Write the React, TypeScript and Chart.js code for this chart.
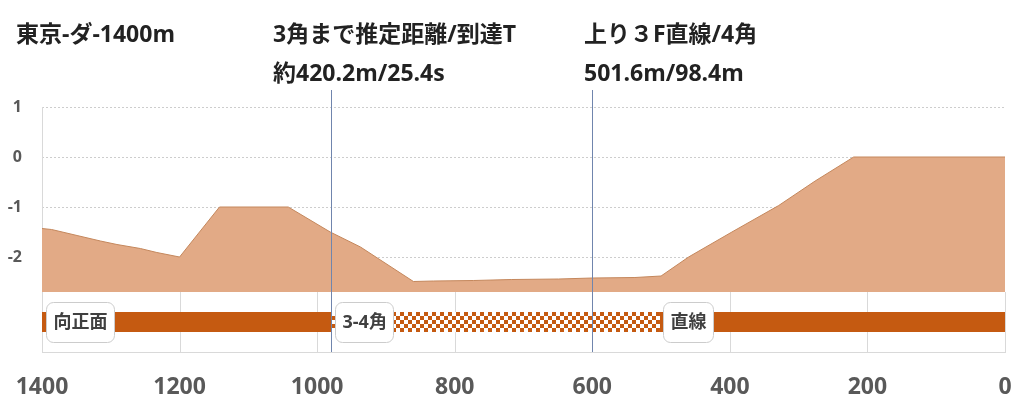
import React, { useEffect, useRef } from "react";
import { Chart, registerables } from "chart.js";

Chart.register(...registerables);

// Elevation profile (remaining distance in m -> relative height in m)
const distances = [1400, 1386, 1349, 1315, 1291, 1257, 1233, 1200, 1142, 1042, 981, 937, 860, 831, 773, 717, 649, 600, 538, 500, 460, 397, 329, 276, 220, 0];
const elevations = [-1.43, -1.45, -1.57, -1.68, -1.75, -1.83, -1.91, -2.0, -1.0, -1.0, -1.5, -1.8, -2.49, -2.48, -2.47, -2.45, -2.44, -2.42, -2.41, -2.38, -2.0, -1.5, -0.97, -0.48, 0, 0];

const yTicks = [1, 0, -1, -2];
const xTicks = [1400, 1200, 1000, 800, 600, 400, 200, 0];

// Track sections
const bandNames = ["向正面", "3-4角", "直線"];
const bandStarts = [1400, 979.8, 501.6];
const bandEnds = [979.8, 501.6, 0];
const bandChecked = [false, true, false];

// Marker lines
const markerDistances = [979.8, 600];

// Header texts
const headerTexts = [
  ["東京-ダ-1400m"],
  ["3角まで推定距離/到達T", "約420.2m/25.4s"],
  ["上り３F直線/4角", "501.6m/98.4m"],
];

const Y_MIN = -3.9;
const Y_MAX = 1;
const BASE = -2.7;
const BAND_LEVEL = -3.3;

const ORANGE = "#C55A11";
const FONT = '"Open Sans", "Noto Sans CJK JP", sans-serif';

export default function App() {
  const ref = useRef<HTMLCanvasElement | null>(null);

  useEffect(() => {
    document.body.style.margin = "0";
    const canvas = ref.current!;
    const ctx = canvas.getContext("2d")!;

    const pc = document.createElement("canvas");
    pc.width = 8;
    pc.height = 8;
    const pctx = pc.getContext("2d")!;
    pctx.fillStyle = "#ffffff";
    pctx.fillRect(0, 0, 8, 8);
    pctx.fillStyle = ORANGE;
    pctx.fillRect(0, 0, 4, 4);
    pctx.fillRect(4, 4, 4, 4);
    const checker = ctx.createPattern(pc, "repeat")!;

    const decor = {
      id: "decor",
      beforeDatasetsDraw(chart: any) {
        const { ctx, chartArea } = chart;
        const xs = chart.scales.x;
        const ys = chart.scales.y;
        const yb = ys.getPixelForValue(BASE);
        ctx.save();
        ctx.strokeStyle = "#d9d9d9";
        ctx.lineWidth = 1;
        xTicks.forEach((v) => {
          const x = Math.round(xs.getPixelForValue(v)) + 0.5;
          ctx.beginPath();
          ctx.moveTo(x, v === 1400 ? chartArea.top : yb);
          ctx.lineTo(x, chartArea.bottom);
          ctx.stroke();
        });
        ctx.restore();
      },
      afterDatasetsDraw(chart: any) {
        const { ctx, chartArea } = chart;
        const xs = chart.scales.x;
        const ys = chart.scales.y;
        ctx.save();
        // markers
        ctx.strokeStyle = "#7085ad";
        ctx.lineWidth = 1;
        markerDistances.forEach((d) => {
          const x = Math.round(xs.getPixelForValue(d)) + 0.5;
          ctx.beginPath();
          ctx.moveTo(x, chartArea.top - 17);
          ctx.lineTo(x, chartArea.bottom);
          ctx.stroke();
        });
        // section labels
        const yc = ys.getPixelForValue(BAND_LEVEL);
        ctx.font = `bold 18px ${FONT}`;
        ctx.textBaseline = "middle";
        ctx.textAlign = "left";
        bandNames.forEach((name, i) => {
          const x0 = xs.getPixelForValue(bandStarts[i]) + 3.5;
          const w = ctx.measureText(name).width + 14;
          const h = 40;
          ctx.beginPath();
          (ctx as any).roundRect(Math.round(x0) + 0.5, Math.round(yc - h / 2) + 0.5, Math.round(w), h, 7);
          ctx.fillStyle = "#ffffff";
          ctx.fill();
          ctx.strokeStyle = "#cccccc";
          ctx.stroke();
          ctx.fillStyle = "#404040";
          ctx.fillText(name, Math.round(x0) + 7.5, yc + 1);
        });
        ctx.restore();
      },
      afterDraw(chart: any) {
        const { ctx } = chart;
        const xs = [16, 273, 584];
        ctx.save();
        ctx.font = `bold 23px ${FONT}`;
        ctx.fillStyle = "#222222";
        ctx.textBaseline = "middle";
        ctx.textAlign = "left";
        headerTexts.forEach((lines, i) => {
          lines.forEach((t, j) => {
            ctx.fillText(t, xs[i], 35 + j * 39);
          });
        });
        ctx.restore();
      },
    };

    const bandDatasets = bandNames.map((name, i) => ({
      type: "line" as const,
      label: name,
      data: [
        { x: bandStarts[i], y: BAND_LEVEL },
        { x: bandEnds[i], y: BAND_LEVEL },
      ],
      borderColor: bandChecked[i] ? checker : ORANGE,
      borderWidth: 20,
      borderCapStyle: "butt",
      pointRadius: 0,
      fill: false,
    }));

    const chart = new Chart(ctx, {
      type: "line",
      data: {
        datasets: [
          {
            label: "高低差",
            data: distances.map((d, i) => ({ x: d, y: elevations[i] })),
            backgroundColor: "rgb(226,170,134)",
            borderColor: "#c4875c",
            borderWidth: 1,
            pointRadius: 0,
            tension: 0,
            fill: { value: BASE },
          } as any,
          ...(bandDatasets as any[]),
        ],
      },
      options: {
        animation: false,
        responsive: false,
        maintainAspectRatio: false,
        layout: { padding: { top: 107, right: 19, bottom: 0, left: 0 } },
        plugins: { legend: { display: false }, tooltip: { enabled: false }, title: { display: false } },
        scales: {
          x: {
            type: "linear",
            reverse: true,
            min: 0,
            max: 1400,
            afterBuildTicks: (axis: any) => {
              axis.ticks = xTicks.map((v) => ({ value: v }));
            },
            grid: { display: true, color: "rgba(0,0,0,0)", drawTicks: true, tickLength: 19 },
            border: { display: true, color: "#d9d9d9" },
            ticks: {
              font: { size: 23, weight: "bold", family: FONT },
              color: "#595959",
              padding: 3,
              maxRotation: 0,
              autoSkip: false,
              callback: (v: any) => String(v),
            },
            afterFit: (s: any) => {
              s.height = 58;
            },
          },
          y: {
            min: Y_MIN,
            max: Y_MAX,
            afterBuildTicks: (axis: any) => {
              axis.ticks = yTicks.map((v) => ({ value: v }));
            },
            grid: { color: "#cdcdcd", drawTicks: false },
            border: { display: false, dash: [2, 2] },
            ticks: {
              font: { size: 16, weight: "bold", family: FONT },
              color: "#595959",
              padding: 20,
              callback: (v: any) => String(v),
            },
            afterFit: (s: any) => {
              s.width = 42;
            },
          },
        },
      } as any,
      plugins: [decor],
    });

    return () => chart.destroy();
  }, []);

  return (
    <div style={{ width: 1024, height: 410, background: "#fff" }}>
      <canvas ref={ref} width={1024} height={410} style={{ display: "block", width: 1024, height: 410 }} />
    </div>
  );
}
